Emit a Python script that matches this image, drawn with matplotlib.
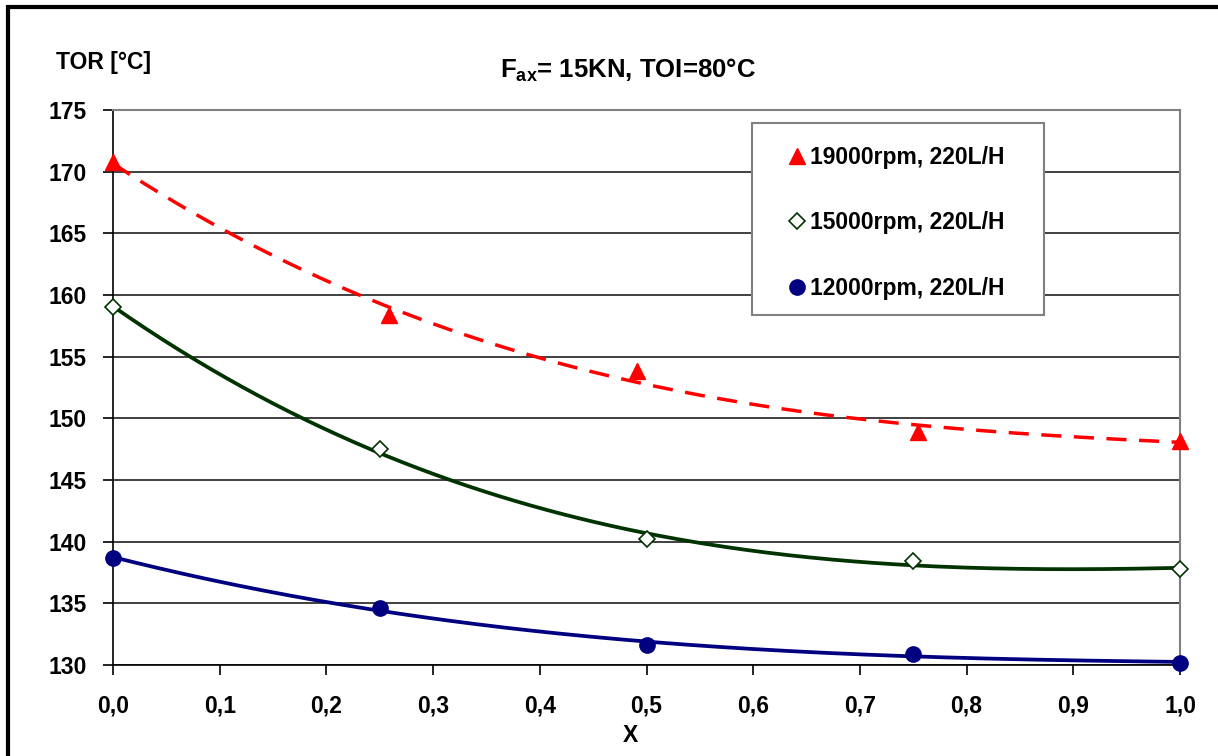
import numpy as np
import matplotlib
matplotlib.use("Agg")
from matplotlib import pyplot as plt
from matplotlib.patches import Rectangle

plt.rcParams['font.family'] = ['Liberation Sans', 'DejaVu Sans']
plt.rcParams['font.weight'] = 'bold'
plt.rcParams['mathtext.fontset'] = 'custom'
plt.rcParams['mathtext.rm'] = 'Liberation Sans:bold'
plt.rcParams['mathtext.bf'] = 'Liberation Sans:bold'

# measured points
x_19000 = [0.0, 0.259, 0.491, 0.754, 1.0]
y_19000 = [170.8, 158.4, 153.8, 148.9, 148.2]
x_15000 = [0.0, 0.25, 0.50, 0.75, 1.0]
y_15000 = [159.0, 147.5, 140.2, 138.4, 137.8]
x_12000 = [0.0, 0.25, 0.50, 0.75, 1.0]
y_12000 = [138.7, 134.6, 131.6, 130.9, 130.2]

labels = ["19000rpm, 220L/H", "15000rpm, 220L/H", "12000rpm, 220L/H"]
x_ticks = [0.0, 0.1, 0.2, 0.3, 0.4, 0.5, 0.6, 0.7, 0.8, 0.9, 1.0]
x_ticklabels = ["0,0", "0,1", "0,2", "0,3", "0,4", "0,5", "0,6", "0,7", "0,8", "0,9", "1,0"]
y_ticks = [130, 135, 140, 145, 150, 155, 160, 165, 170, 175]

fs = 16.5
W, H = 1218, 756

fig = plt.figure(figsize=(12.18, 7.56), dpi=100)
ax = fig.add_axes([113 / W, 1 - 665 / H, (1180 - 113) / W, (665 - 110) / H])

# polynomial trend lines (3rd order, like the spreadsheet trendlines)
xs = np.linspace(0, 1, 200)
trend_r = np.polyval(np.polyfit(x_19000, y_19000, 3), xs)
trend_g = np.polyval(np.polyfit(x_15000, y_15000, 3), xs)
trend_b = np.polyval(np.polyfit(x_12000, y_12000, 3), xs)

ax.plot(xs, trend_r, color="#ff0000", lw=2.5, ls=(0, (5.8, 3.6)), zorder=3)
ax.plot(xs, trend_g, color="#003300", lw=2.7, zorder=3)
ax.plot(xs, trend_b, color="#000080", lw=2.7, zorder=3)

ax.plot(x_19000, y_19000, ls="none", marker="^", ms=11, color="#ff0000",
        clip_on=False, zorder=4, label=labels[0])
ax.plot(x_15000, y_15000, ls="none", marker="D", ms=8, mfc="white", mec="#003300",
        mew=1.2, clip_on=False, zorder=4, label=labels[1])
ax.plot(x_12000, y_12000, ls="none", marker="o", ms=11, color="#000080",
        clip_on=False, zorder=4, label=labels[2])

ax.set_xlim(0, 1)
ax.set_ylim(130, 175)
ax.set_xticks(x_ticks)
ax.set_xticklabels(x_ticklabels)
ax.set_yticks(y_ticks)
ax.tick_params(axis="both", labelsize=fs, direction="out", length=7, width=1.2)
ax.tick_params(axis="x", pad=14)
ax.tick_params(axis="y", pad=12)
for t in ax.get_xticklabels() + ax.get_yticklabels():
    t.set_fontweight("bold")
ax.grid(axis="y", color="#202020", lw=1.2)
ax.set_axisbelow(True)
ax.spines["left"].set_color("black")
ax.spines["bottom"].set_color("black")
ax.spines["left"].set_linewidth(1.2)
ax.spines["bottom"].set_linewidth(1.2)
ax.spines["top"].set_color("#808080")
ax.spines["right"].set_color("#808080")
ax.spines["top"].set_linewidth(1.5)
ax.spines["right"].set_linewidth(1.5)

# legend box drawn separately so its padding matches the original
box = Rectangle((752 / W, 1 - 315 / H), (1044 - 752) / W, (315 - 123) / H,
                transform=fig.transFigure, facecolor="white", edgecolor="#808080",
                lw=1.5, clip_on=False, zorder=4.5)
ax.add_patch(box)
leg = ax.legend(loc="upper left", bbox_to_anchor=(790 / W, 1 - 146 / H),
                bbox_transform=fig.transFigure, frameon=False, handlelength=0.6,
                handletextpad=0.28, labelspacing=1.85, borderpad=0, borderaxespad=0,
                prop={"weight": "bold", "size": fs})
leg.set_zorder(5)

fig.text(628 / W, 1 - 70 / H, r"F$_{\mathrm{ax}}$= 15KN, TOI=80°C",
         ha="center", va="center", fontsize=18.5, fontweight="bold")
fig.text(56 / W, 1 - 62 / H, "TOR [°C]", ha="left", va="center",
         fontsize=fs, fontweight="bold")
fig.text(630 / W, 1 - 736 / H, "X", ha="center", va="center",
         fontsize=fs, fontweight="bold")

# outer chart frame
fig.patches.append(Rectangle((8 / W, -0.1), 1.2, 1 - 7 / H + 0.1, transform=fig.transFigure,
                             fill=False, edgecolor="black", lw=3))

fig.savefig("out.png", dpi=100)
